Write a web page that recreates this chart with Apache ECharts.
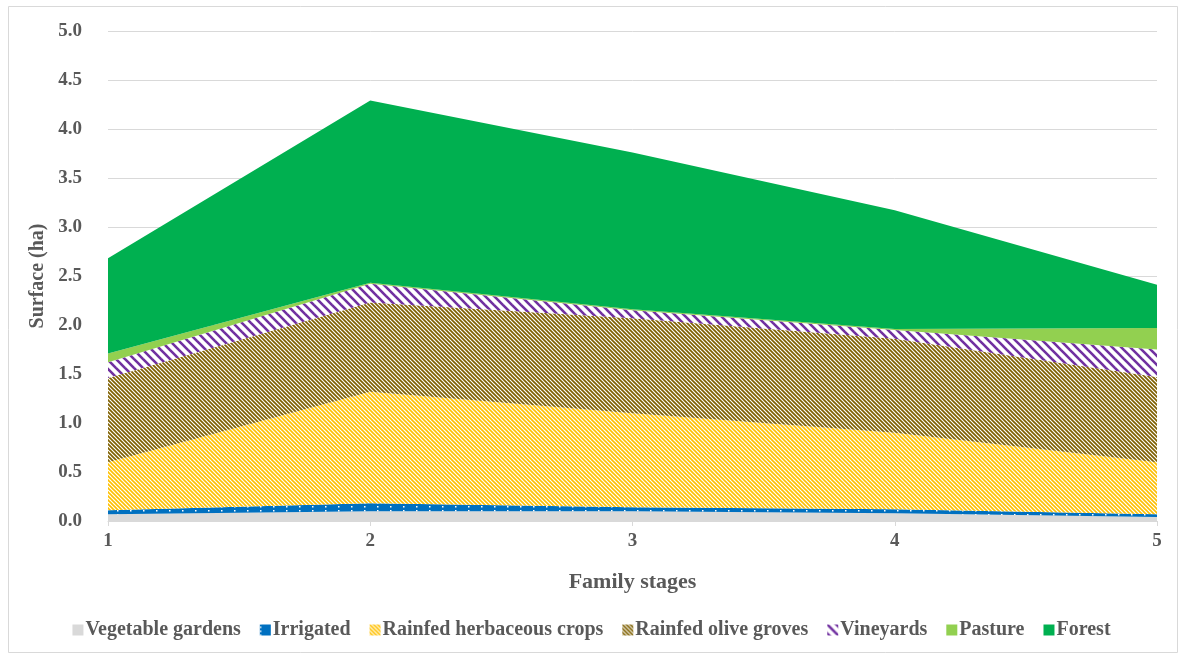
<!DOCTYPE html>
<html>
<head>
<meta charset="utf-8">
<script src="https://cdn.jsdelivr.net/npm/echarts@6/dist/echarts.min.js"></script>
<style>
  html, body { margin: 0; padding: 0; background: #ffffff; }
  #chart { width: 1183px; height: 657px; }
</style>
</head>
<body>
<div id="chart"></div>
<script>
// Land use surface (ha) per family stage, stacked
const stages = ['1', '2', '3', '4', '5'];
const vegetableGardens = [0.07, 0.10, 0.10, 0.08, 0.04];
const irrigated        = [0.04, 0.08, 0.04, 0.04, 0.03];
const rainfedHerbaceous = [0.49, 1.14, 0.96, 0.78, 0.53];
const rainfedOlive     = [0.86, 0.91, 0.97, 0.96, 0.87];
const vineyards        = [0.16, 0.19, 0.08, 0.09, 0.28];
const pasture          = [0.09, 0.01, 0.01, 0.01, 0.22];
const forest           = [0.97, 1.86, 1.60, 1.21, 0.44];
const yTicks = [0, 0.5, 1, 1.5, 2, 2.5, 3, 3.5, 4, 4.5, 5];

// Diagonal stripe fill ("\" direction) drawn into a repeating tile
function stripes(fg, bg, size, width) {
  const c = document.createElement('canvas');
  c.width = size; c.height = size;
  const g = c.getContext('2d');
  g.fillStyle = bg; g.fillRect(0, 0, size, size);
  g.strokeStyle = fg; g.lineWidth = width;
  for (let k = -1; k <= 1; k++) {
    g.beginPath();
    g.moveTo(k * size - size, -size);
    g.lineTo(k * size + 2 * size, 2 * size);
    g.stroke();
  }
  return { image: c, repeat: 'repeat' };
}
// Solid fill with small white dots
function dotted(fg, size) {
  const c = document.createElement('canvas');
  c.width = size; c.height = 4;
  const g = c.getContext('2d');
  g.fillStyle = fg; g.fillRect(0, 0, size, 4);
  g.fillStyle = '#ffffff'; g.fillRect(0, 2, 1.5, 1.5);
  return { image: c, repeat: 'repeat' };
}

const fills = {
  veg: '#d9d9d9',
  irr: dotted('#0070c0', 13),
  herb: stripes('#ffc000', '#ffffff', 4, 1.6),
  olive: stripes('#7f6000', '#ffffff', 4, 1.7),
  vine: stripes('#7030a0', '#ffffff', 9, 2.6),
  past: '#92d050',
  forest: '#00b050'
};

const serif = '"Liberation Serif", "DejaVu Serif", serif';
const grey = '#595959';

function layer(name, data, fill) {
  return {
    name: name,
    type: 'line',
    stack: 'total',
    data: data,
    symbol: 'none',
    smooth: false,
    lineStyle: { width: 0 },
    itemStyle: { color: fill },
    areaStyle: { color: fill, opacity: 1 },
    emphasis: { disabled: true }
  };
}

const series = [
  layer('Vegetable gardens', vegetableGardens, fills.veg),
  layer('Irrigated', irrigated, fills.irr),
  layer('Rainfed herbaceous crops', rainfedHerbaceous, fills.herb),
  layer('Rainfed olive groves', rainfedOlive, fills.olive),
  layer('Vineyards', vineyards, fills.vine),
  layer('Pasture', pasture, fills.past),
  layer('Forest', forest, fills.forest)
];

const chart = echarts.init(document.getElementById('chart'));
chart.setOption({
  animation: false,
  backgroundColor: '#ffffff',
  graphic: [{
    type: 'rect',
    shape: { x: 8.5, y: 6.5, width: 1169, height: 646 },
    style: { fill: 'none', stroke: '#d9d9d9', lineWidth: 1 },
    silent: true, z: -1
  }],
  grid: { left: 108, right: 26, top: 31, bottom: 136, containLabel: false },
  legend: {
    bottom: 12,
    left: 'center',
    icon: 'rect',
    itemWidth: 11,
    itemHeight: 11,
    itemGap: 19,
    textStyle: { fontFamily: serif, fontWeight: 'bold', fontSize: 20, color: grey, padding: [0, 0, 0, -3] },
    data: series.map(s => ({ name: s.name, itemStyle: { color: s.areaStyle.color } }))
  },
  xAxis: {
    type: 'category',
    data: stages,
    boundaryGap: false,
    name: 'Family stages',
    nameLocation: 'middle',
    nameGap: 50,
    nameTextStyle: { fontFamily: serif, fontWeight: 'bold', fontSize: 22, color: grey },
    axisLine: { lineStyle: { color: '#d9d9d9', width: 1 } },
    axisTick: { show: true, alignWithLabel: true, length: 5, lineStyle: { color: '#d9d9d9' } },
    axisLabel: { fontFamily: serif, fontWeight: 'bold', fontSize: 19, color: grey, margin: 11 },
    splitLine: { show: false }
  },
  yAxis: {
    type: 'value',
    min: yTicks[0],
    max: yTicks[yTicks.length - 1],
    interval: 0.5,
    name: 'Surface (ha)',
    nameLocation: 'middle',
    nameRotate: 90,
    nameGap: 56,
    nameTextStyle: { fontFamily: serif, fontWeight: 'bold', fontSize: 20, color: grey },
    axisLine: { show: false },
    axisTick: { show: false },
    axisLabel: {
      fontFamily: serif, fontWeight: 'bold', fontSize: 19, color: grey, margin: 26,
      formatter: v => v.toFixed(1)
    },
    splitLine: { lineStyle: { color: '#d9d9d9', width: 1 } }
  },
  series: series
});
</script>
</body>
</html>
